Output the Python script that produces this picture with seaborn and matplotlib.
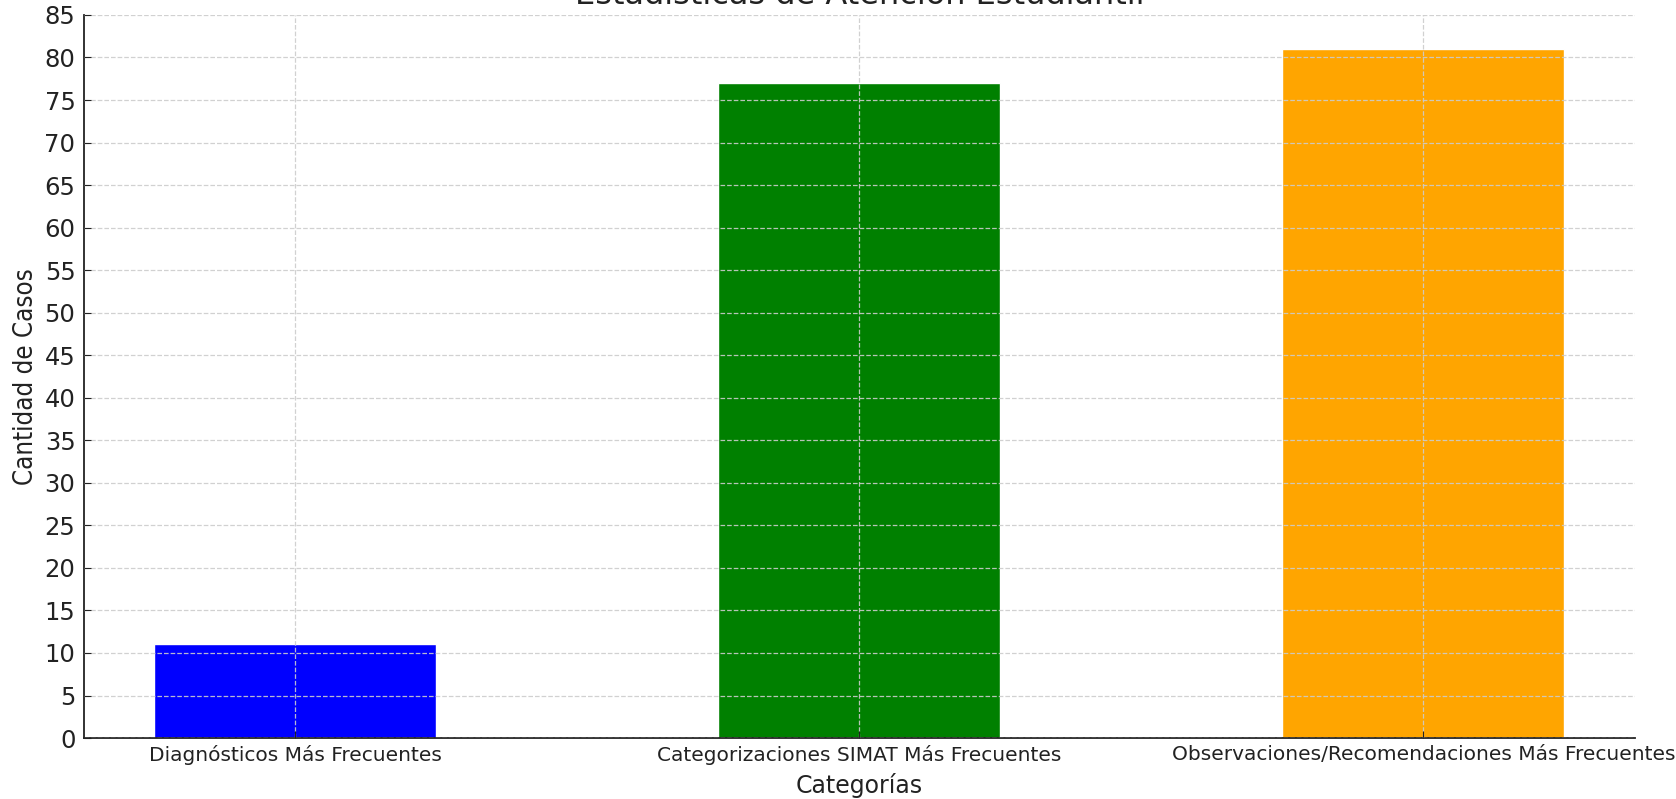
import pandas as pd
import seaborn as sns
import matplotlib.pyplot as plt

categorias = ["Diagnósticos Más Frecuentes",
              "Categorizaciones SIMAT Más Frecuentes",
              "Observaciones/Recomendaciones Más Frecuentes"]
casos = [11, 77, 81]
colores = ["blue", "green", "orange"]
yticks = list(range(0, 90, 5))

df = pd.DataFrame({"Categoría": categorias, "Casos": casos})

sns.set_style("ticks")
plt.rcParams['font.family'] = ['DejaVu Sans']

fig = plt.figure(figsize=(16.76, 7.99), dpi=100)
ax = fig.add_axes([0.050, 0.0763, 0.9255, 0.905])

sns.barplot(data=df, x="Categoría", y="Casos", hue="Categoría",
            palette=colores, width=0.5, saturation=1, legend=False, ax=ax)

ax.set_xlim(-0.375, 2.375)
ax.set_ylim(0, 85)
ax.set_yticks(yticks)
ax.set_axisbelow(False)
ax.grid(True, linestyle="--", color="#cccccc", linewidth=0.9, alpha=0.9)
sns.despine(ax=ax)
for s in ["left", "bottom"]:
    ax.spines[s].set_color("#222222")
    ax.spines[s].set_linewidth(1.3)

ax.tick_params(axis="x", labelsize=14.5, direction="in", length=5, colors="#222222", pad=5)
ax.tick_params(axis="y", labelsize=17.5, direction="in", length=5, colors="#222222", pad=6)
ax.set_xlabel("Categorías", fontsize=17, color="#222222", labelpad=6)
ax.set_ylabel("Cantidad de Casos", fontsize=18.5, color="#222222", labelpad=4,
              fontstretch="condensed", family=["Liberation Sans Narrow", "DejaVu Sans"])
ax.set_title("Estadísticas de Atención Estudiantil", fontsize=23, pad=8, color="#222222")

fig.savefig("out.png", dpi=100)
